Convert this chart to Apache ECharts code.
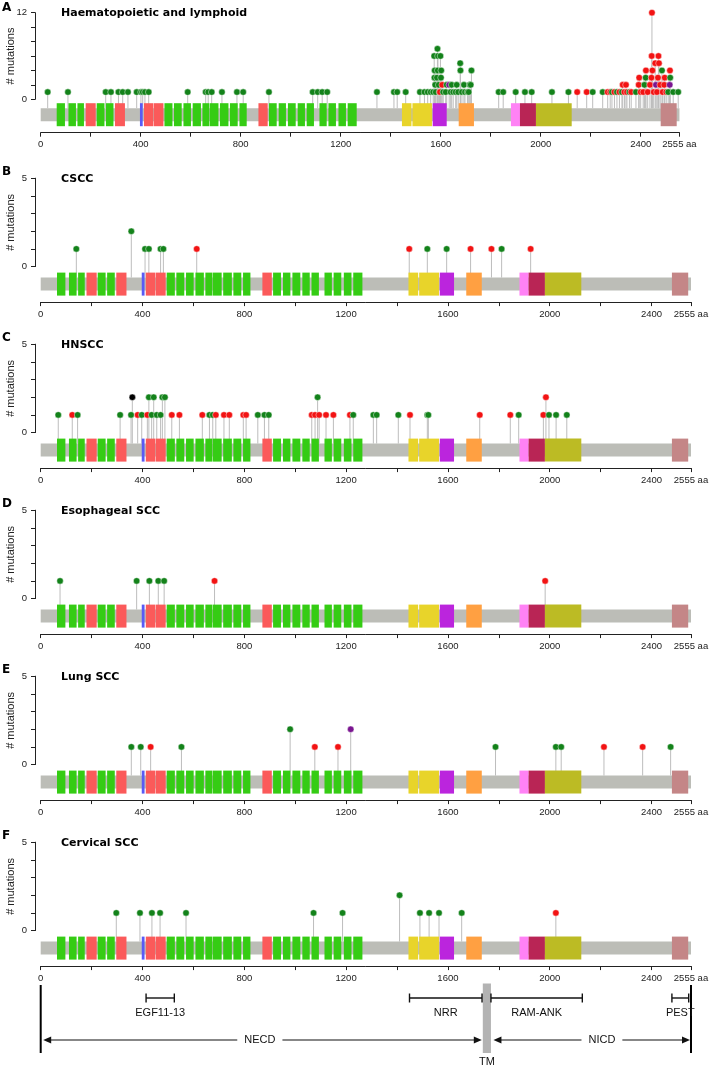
<!DOCTYPE html>
<html><head><meta charset="utf-8">
<script src="https://cdn.jsdelivr.net/npm/echarts@6/dist/echarts.min.js"></script>
<style>html,body{margin:0;padding:0;background:#fff}#c{width:709px;height:1065px}</style>
</head><body><div id="c"></div>
<script>
// ---------------- DATA ----------------
const PROTEIN_LENGTH = 2555;
const panelLetters = ['A','B','C','D','E','F'];
const panelTitles = ['Haematopoietic and lymphoid','CSCC','HNSCC','Esophageal SCC','Lung SCC','Cervical SCC'];
const panelYMax = [12,5,5,5,5,5];
const panelYStep = [2,1,1,1,1,1];
const xLabelValues = [0,400,800,1200,1600,2000,2400,2555];

// protein domains (aa start, aa end, type)
const domainStart = [64,111,147,180,224,261,297,397,413,453,495,533,571,608,647,677,717,757,795,871,913,952,989,1028,1064,1115,1151,1191,1228,1445,1487,1568,1672,1881,1917,1981,2480];
const domainEnd   = [97,141,173,220,255,291,337,408,451,491,527,564,601,641,675,711,751,788,824,908,944,981,1020,1057,1093,1144,1181,1221,1264,1483,1565,1624,1733,1917,1981,2124,2544];
const domainType  = ['egf','egf','egf','egfCa','egf','egf','egfCa','blue','egfCa','egfCa','egf','egf','egf','egf','egf','egf','egf','egf','egf','egfCa','egf','egf','egf','egf','egf','egf','egf','egf','egf','lnrA','lnrB','hd','tad','ram','ankA','ank','pest'];

// mutations: [position (aa), number of mutations, type]  M=missense T=truncating I=in-frame O=other
const mutA = [
 [28,1,'M'],[109,1,'M'],[260,1,'M'],[281,1,'M'],[311,1,'M'],[328,1,'M'],[349,1,'M'],[384,1,'M'],[401,1,'M'],[408,1,'M'],[417,1,'M'],[432,1,'M'],
 [588,1,'M'],[660,1,'M'],[670,1,'M'],[684,1,'M'],[725,1,'M'],[785,1,'M'],[810,1,'M'],[913,1,'M'],[1088,1,'M'],[1108,1,'M'],[1126,1,'M'],[1146,1,'M'],
 [1345,1,'M'],[1413,1,'M'],[1426,1,'M'],[1460,1,'M'],[1517,1,'M'],[1535,1,'M'],[1548,1,'M'],[1560,1,'M'],[1570,1,'M'],[1580,1,'M'],[1595,1,'M'],[1597,1,'T'],
 [1610,1,'M'],[1620,1,'M'],[1640,1,'M'],[1650,1,'M'],[1660,1,'M'],[1670,1,'M'],[1685,1,'M'],[1697,1,'M'],[1707,1,'M'],[1712,1,'M'],
 [1578,2,'M'],[1592,2,'M'],[1606,2,'T'],[1624,2,'M'],[1634,2,'O'],[1644,2,'M'],[1664,2,'M'],[1693,2,'M'],[1716,2,'M'],[1720,2,'M'],
 [1575,3,'M'],[1585,3,'M'],[1601,3,'M'],
 [1576,4,'M'],[1588,4,'M'],[1602,4,'M'],[1679,4,'M'],[1723,4,'M'],
 [1678,5,'M'],
 [1574,6,'M'],[1589,6,'M'],[1599,6,'M'],
 [1587,7,'M'],
 [1832,1,'M'],[1850,1,'M'],[1900,1,'M'],[1937,1,'M'],[1964,1,'M'],[2045,1,'M'],[2111,1,'M'],[2146,1,'T'],[2184,1,'T'],[2208,1,'M'],[2248,1,'M'],
 [2268,1,'T'],[2278,1,'T'],[2285,1,'M'],[2295,1,'T'],[2305,1,'M'],[2315,1,'T'],[2325,1,'M'],[2335,1,'T'],[2345,1,'T'],[2355,1,'M'],[2362,1,'T'],
 [2381,1,'M'],[2400,1,'T'],[2410,1,'T'],[2428,1,'T'],[2452,1,'T'],[2465,1,'T'],[2488,1,'T'],[2502,1,'T'],[2510,1,'M'],[2530,1,'M'],[2550,1,'M'],
 [2328,2,'T'],[2341,2,'T'],[2392,2,'T'],[2415,2,'M'],[2437,2,'T'],[2461,2,'O'],[2478,2,'T'],[2494,2,'T'],[2516,2,'O'],
 [2394,3,'T'],[2420,3,'M'],[2443,3,'T'],[2469,3,'T'],[2496,3,'T'],[2518,3,'M'],
 [2421,4,'T'],[2447,4,'T'],[2485,4,'M'],[2517,4,'T'],
 [2458,5,'T'],[2473,5,'T'],
 [2444,6,'T'],[2471,6,'T'],
 [2445,12,'T']
];
const mutB = [[140,1,'M'],[356,2,'M'],[410,1,'M'],[425,1,'M'],[471,1,'M'],[482,1,'M'],[613,1,'T'],[1448,1,'T'],[1519,1,'M'],[1595,1,'M'],[1689,1,'T'],[1771,1,'T'],[1811,1,'M'],[1925,1,'T']];
const mutC = [
 [69,1,'M'],[124,1,'T'],[145,1,'M'],[312,1,'M'],[355,1,'M'],[381,1,'T'],[397,1,'M'],[419,1,'T'],[436,1,'M'],[456,1,'M'],[471,1,'M'],[515,1,'T'],[545,1,'T'],
 [635,1,'T'],[663,1,'M'],[676,1,'M'],[688,1,'T'],[720,1,'T'],[741,1,'T'],[796,1,'T'],[807,1,'T'],[853,1,'M'],[879,1,'M'],[896,1,'M'],
 [1065,1,'T'],[1078,1,'T'],[1094,1,'T'],[1121,1,'T'],[1150,1,'T'],[1215,1,'T'],[1228,1,'M'],[1307,1,'M'],[1320,1,'M'],[1405,1,'M'],[1451,1,'T'],
 [1519,1,'M'],[1523,1,'M'],[1725,1,'T'],[1845,1,'T'],[1878,1,'M'],[1975,1,'T'],[1997,1,'M'],[2025,1,'M'],[2067,1,'M'],
 [360,2,'I'],[425,2,'M'],[444,2,'M'],[478,2,'M'],[488,2,'M'],[1088,2,'M'],[1985,2,'T']
];
const mutD = [[76,1,'M'],[377,1,'M'],[427,1,'M'],[462,1,'M'],[485,1,'M'],[683,1,'T'],[1982,1,'T']];
const mutE = [[356,1,'M'],[393,1,'M'],[432,1,'T'],[553,1,'M'],[980,2,'M'],[1077,1,'T'],[1168,1,'T'],[1218,2,'O'],[1787,1,'M'],[2024,1,'M'],[2045,1,'M'],[2213,1,'T'],[2365,1,'T'],[2475,1,'M']];
const mutF = [[297,1,'M'],[390,1,'M'],[437,1,'M'],[469,1,'M'],[571,1,'M'],[1072,1,'M'],[1186,1,'M'],[1410,2,'M'],[1490,1,'M'],[1526,1,'M'],[1565,1,'M'],[1654,1,'M'],[2024,1,'T']];
const panelMutations = [mutA, mutB, mutC, mutD, mutE, mutF];

// annotation below the last panel
const annoBracketLabels = ['EGF11-13','NRR','RAM-ANK','PEST'];
const annoBracketStart  = [414,1449,1769,2480];
const annoBracketEnd    = [525,1734,2128,2546];
const annoArrowLabels   = ['NECD','NICD'];
const annoArrowStart    = [0,1769];
const annoArrowEnd      = [1737,2555];
const annoArrowLabelAt  = [861,2205];
const tmLabel = 'TM';
const tmRegion = [1737,1769];

// ---------------- STYLE ----------------
const DOMAIN_COLORS = {egf:'#35cc14', egfCa:'#fb5a5a', blue:'#5a5af5', lnrA:'#e8d42a', lnrB:'#e8d42a', hd:'#bb25dd', tad:'#ffa042', ram:'#ff82f5', ankA:'#b92555', ank:'#bcbb24', pest:'#c48687'};
const BACKBONE = '#bcbdb7';
const MUT_COLORS = {M:'#13821a', T:'#f21313', I:'#000000', O:'#7a1590'};
const AX = '#222';
const TICK_FONT = 'Liberation Sans';

// ---------------- LAYOUT ----------------
function layout(i){
  if (i === 0) return {top:12.7, zero:99.3, axis:132.7, width:638.75};
  const top = 178.2 + 166*(i-1);
  return {top, zero: top+88.4, axis: top+88.4+35.5, width:650.3};
}
const LEFT = 40.7;

const option = {animation:false, backgroundColor:'#fff', grid:[], xAxis:[], yAxis:[], series:[], graphic:[]};

panelLetters.forEach((letter, i) => {
  const L = layout(i);
  const yMax = panelYMax[i];
  const pxPerUnit = (L.zero - L.top) / yMax;
  const yMin = -(L.axis - L.zero) / pxPerUnit;
  const g = 2*i, gy = 2*i+1;
  option.grid.push({left:LEFT, top:L.top, width:L.width, height:L.axis-L.top, outerBoundsMode:'none'});
  option.grid.push({left:35, top:L.top, width:4, height:L.zero-L.top, outerBoundsMode:'none'});
  option.xAxis.push({
    gridIndex:g, type:'value', min:0, max:PROTEIN_LENGTH, interval:200,
    axisLine:{show:true, onZero:false, lineStyle:{color:AX, width:1}},
    axisTick:{show:true, length:4, lineStyle:{color:AX}},
    splitLine:{show:false},
    axisLabel:{show:true, margin:7, color:AX, fontFamily:TICK_FONT, fontSize:9.5, showMinLabel:true, showMaxLabel:true,
      formatter: v => xLabelValues.includes(v) ? (v === PROTEIN_LENGTH ? v + ' aa' : String(v)) : ''}
  });
  option.xAxis.push({gridIndex:gy, type:'value', min:0, max:1, show:false});
  option.yAxis.push({gridIndex:g, type:'value', min:yMin, max:yMax, show:false});
  option.yAxis.push({
    gridIndex:gy, type:'value', min:0, max:yMax, interval:panelYStep[i],
    axisLine:{show:true, lineStyle:{color:AX, width:1}},
    axisTick:{show:true, length:4, lineStyle:{color:AX}},
    splitLine:{show:false},
    axisLabel:{margin:8, color:AX, fontFamily:TICK_FONT, fontSize:9.5, formatter: v => (v === 0 || v === yMax) ? String(v) : ''},
    name:'# mutations', nameLocation:'middle', nameGap:19, nameMoveOverlap:false,
    nameTextStyle:{color:AX, fontFamily:TICK_FONT, fontSize:11}
  });

  const muts = panelMutations[i];
  // stems
  option.series.push({
    type:'custom', xAxisIndex:g, yAxisIndex:g, z:2, silent:true,
    data: muts.map(m => [m[0], m[1]]),
    renderItem: (params, api) => {
      const top = api.coord([api.value(0), api.value(1)]);
      const base = api.coord([api.value(0), yMin])[1] - 18 - 6.5;
      return {type:'line', shape:{x1:top[0], y1:top[1], x2:top[0], y2:base}, style:{stroke:'#bdbdbd', lineWidth:1}};
    }
  });
  // protein backbone + domains
  const protItems = [[0, PROTEIN_LENGTH, -1]].concat(domainStart.map((s,k) => [s, domainEnd[k], k]));
  option.series.push({
    type:'custom', xAxisIndex:g, yAxisIndex:g, z:3, silent:true,
    data: protItems.map(d => [d[0], d[1]]),
    renderItem: (params, api) => {
      const k = protItems[params.dataIndex][2];
      const a = api.coord([api.value(0), yMin]);
      const b = api.coord([api.value(1), yMin]);
      const c = a[1] - 18;
      if (k < 0) return {type:'rect', shape:{x:a[0], y:c-6.5, width:b[0]-a[0], height:13}, style:{fill:BACKBONE}};
      return {type:'rect', shape:{x:a[0], y:c-11.5, width:b[0]-a[0], height:23}, style:{fill:DOMAIN_COLORS[domainType[k]]}};
    }
  });
  // heads
  option.series.push({
    type:'scatter', xAxisIndex:g, yAxisIndex:g, z:4, silent:true,
    symbol:'circle', symbolSize:6.5,
    data: muts.map(m => [m[0], m[1], m[2]]),
    itemStyle:{color: p => MUT_COLORS[p.data[2]], borderColor:'rgba(255,255,255,0.75)', borderWidth:0.6, opacity:1}
  });

  // panel letter and title
  const titleY = i === 0 ? 12.8 : L.top + 0.5;
  const letterY = i === 0 ? 7.5 : L.top - 6;
  option.graphic.push({type:'text', x:2, y:letterY, style:{text:letter, font:'bold 12px "DejaVu Sans"', fill:'#000', align:'left', verticalAlign:'middle'}});
  option.graphic.push({type:'text', x:61, y:titleY, style:{text:panelTitles[i], font:'bold 11px "DejaVu Sans"', fill:'#000', align:'left', verticalAlign:'middle'}});
});

// annotation grid
const ga = 12;
option.grid.push({left:LEFT, top:980, width:650.3, height:85, outerBoundsMode:'none'});
option.xAxis.push({gridIndex:ga, type:'value', min:0, max:PROTEIN_LENGTH, show:false});
option.yAxis.push({gridIndex:ga, type:'value', min:0, max:85, inverse:true, show:false});
const annoItems = [];
annoItems.push({kind:'border', s:0});
annoItems.push({kind:'border', s:PROTEIN_LENGTH});
annoArrowLabels.forEach((t,k) => annoItems.push({kind:'arrow', s:annoArrowStart[k], e:annoArrowEnd[k], at:annoArrowLabelAt[k], text:t}));
annoItems.push({kind:'tm', s:tmRegion[0], e:tmRegion[1], text:tmLabel});
annoBracketLabels.forEach((t,k) => annoItems.push({kind:'bracket', s:annoBracketStart[k], e:annoBracketEnd[k], text:t}));
const ANNO_FONT = '11px "Liberation Sans"';
option.series.push({
  type:'custom', xAxisIndex:ga, yAxisIndex:ga, z:5, silent:true,
  data: annoItems.map(it => [it.s, 0]),
  renderItem: (params, api) => {
    const it = annoItems[params.dataIndex];
    const X = v => api.coord([v, 0])[0];
    const Y = v => api.coord([0, v])[1];
    const kids = [];
    if (it.kind === 'border') {
      kids.push({type:'line', shape:{x1:X(it.s), y1:Y(5), x2:X(it.s), y2:Y(73)}, style:{stroke:'#000', lineWidth:2}});
    } else if (it.kind === 'tm') {
      kids.push({type:'rect', shape:{x:X(it.s), y:Y(3.5), width:X(it.e)-X(it.s), height:Y(73)-Y(3.5)}, style:{fill:'#b3b3b3'}});
      kids.push({type:'text', style:{text:it.text, x:(X(it.s)+X(it.e))/2, y:Y(81.5), font:ANNO_FONT, fill:'#111', align:'center', verticalAlign:'middle'}});
    } else if (it.kind === 'bracket') {
      const y = Y(18), x1 = X(it.s), x2 = X(it.e);
      kids.push({type:'line', shape:{x1, y1:y, x2, y2:y}, style:{stroke:'#111', lineWidth:1.4}});
      kids.push({type:'line', shape:{x1, y1:y-4.5, x2:x1, y2:y+4.5}, style:{stroke:'#111', lineWidth:1.4}});
      kids.push({type:'line', shape:{x1:x2, y1:y-4.5, x2, y2:y+4.5}, style:{stroke:'#111', lineWidth:1.4}});
      kids.push({type:'text', style:{text:it.text, x:(x1+x2)/2, y:Y(33), font:ANNO_FONT, fill:'#111', align:'center', verticalAlign:'middle'}});
    } else if (it.kind === 'arrow') {
      const y = Y(60), x1 = X(it.s) + 2.5, x2 = X(it.e) - 1;
      kids.push({type:'line', shape:{x1:x1+4, y1:y, x2:x2-4, y2:y}, style:{stroke:'#111', lineWidth:1.2}});
      kids.push({type:'polygon', shape:{points:[[x1,y],[x1+8,y-3.5],[x1+8,y+3.5]]}, style:{fill:'#111'}});
      kids.push({type:'polygon', shape:{points:[[x2,y],[x2-8,y-3.5],[x2-8,y+3.5]]}, style:{fill:'#111'}});
      kids.push({type:'text', style:{text:it.text, x:X(it.at), y:y, font:ANNO_FONT, fill:'#111', align:'center', verticalAlign:'middle', backgroundColor:'#fff', padding:[2,7]}});
    }
    return {type:'group', children:kids};
  }
});

const chart = echarts.init(document.getElementById('c'), null, {renderer:'canvas'});
chart.setOption(option);
</script></body></html>
